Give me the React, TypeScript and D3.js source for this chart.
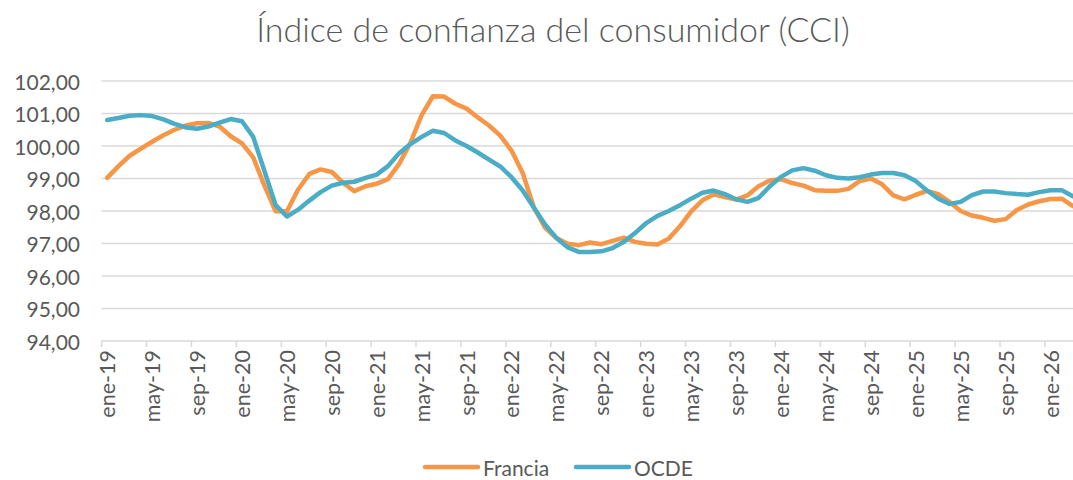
import React from "react";
import * as d3 from "d3";

const monthNames = ["ene", "feb", "mar", "abr", "may", "jun", "jul", "ago", "sep", "oct", "nov", "dic"];
const startYear = 19;
const monthCount = 87;
const months: string[] = Array.from({ length: monthCount }, (_, i) => `${monthNames[i % 12]}-${startYear + Math.floor(i / 12)}`);

const francia: number[] = [
  99.02, 99.38, 99.70, 99.92, 100.13, 100.33, 100.50, 100.63, 100.70, 100.71, 100.60, 100.30,
  100.08, 99.65, 98.78, 97.99, 97.99, 98.66, 99.14, 99.28, 99.20, 98.87, 98.61, 98.76,
  98.84, 98.98, 99.45, 100.10, 100.95, 101.53, 101.52, 101.30, 101.15, 100.88, 100.63, 100.32,
  99.86, 99.17, 98.10, 97.48, 97.17, 96.99, 96.95, 97.03, 96.98, 97.08, 97.18, 97.05,
  96.99, 96.97, 97.15, 97.53, 97.99, 98.33, 98.51, 98.43, 98.35, 98.48, 98.76, 98.94,
  98.98, 98.86, 98.78, 98.64, 98.62, 98.62, 98.68, 98.92, 99.00, 98.82, 98.48, 98.36,
  98.50, 98.62, 98.52, 98.28, 98.00, 97.86, 97.79, 97.70, 97.75, 98.03, 98.20, 98.30,
  98.37, 98.38, 98.15,
];

const ocde: number[] = [
  100.80, 100.86, 100.93, 100.95, 100.92, 100.82, 100.68, 100.57, 100.53, 100.60, 100.72, 100.83,
  100.76, 100.28, 99.23, 98.18, 97.83, 98.04, 98.32, 98.58, 98.78, 98.87, 98.90, 99.02,
  99.12, 99.38, 99.78, 100.06, 100.28, 100.47, 100.40, 100.17, 100.00, 99.80, 99.58, 99.37,
  99.04, 98.63, 98.10, 97.58, 97.17, 96.88, 96.74, 96.74, 96.76, 96.86, 97.05, 97.32,
  97.63, 97.85, 98.00, 98.18, 98.38, 98.56, 98.63, 98.52, 98.36, 98.28, 98.40, 98.76,
  99.05, 99.25, 99.32, 99.24, 99.10, 99.02, 99.00, 99.04, 99.12, 99.17, 99.17, 99.10,
  98.92, 98.63, 98.38, 98.22, 98.28, 98.49, 98.60, 98.60, 98.55, 98.52, 98.50, 98.58,
  98.64, 98.64, 98.45,
];

const yTicks: number[] = [94, 95, 96, 97, 98, 99, 100, 101, 102];
const seriesNames = ["Francia", "OCDE"];
const title = "Índice de confianza del consumidor (CCI)";

const W = 1073;
const H = 480;
const FONT = "Lato, 'Open Sans', sans-serif";
const TEXT = "#595959";
const GRID = "#D9D9D9";
const ORANGE = "#F79646";
const BLUE = "#4BACC6";

export default function App() {
  const left = 101.6;
  const step = 11.23;
  const x = d3.scaleBand<string>().domain(months).range([left, left + step * monthCount]).paddingInner(0).paddingOuter(0);
  const bw = x.bandwidth();
  const cx = (m: string) => (x(m) as number) + bw / 2;
  const y = d3.scaleLinear().domain([94, 102]).range([341, 81]);

  const line = d3
    .line<number>()
    .x((_, i) => cx(months[i]))
    .y((d) => y(d));

  const tickMonths = months.filter((_, i) => i % 4 === 0);
  const fmt = (v: number) => v.toFixed(2).replace(".", ",");

  return (
    <svg width={W} height={H} style={{ position: "absolute", left: 0, top: 0, display: "block", background: "#fff" }}>
      <defs>
        <clipPath id="plotclip">
          <rect x={0} y={0} width={W} height={H} />
        </clipPath>
      </defs>
      <text x={553} y={42} textAnchor="middle" fontFamily={FONT} fontWeight={300} fontSize={34} fill={TEXT}>
        {title}
      </text>
      {yTicks.map((t) => (
        <g key={t}>
          <line x1={left} x2={W} y1={y(t)} y2={y(t)} stroke={GRID} strokeWidth={1.5} />
          <text x={80} y={y(t)} textAnchor="end" dominantBaseline="central" fontFamily={FONT} fontSize={21} fill={TEXT}>
            {fmt(t)}
          </text>
        </g>
      ))}
      {tickMonths.map((m) => (
        <line key={"t" + m} x1={x(m) as number} x2={x(m) as number} y1={y(94)} y2={y(94) + 6} stroke={GRID} strokeWidth={1.5} />
      ))}
      {tickMonths.map((m) => (
        <text
          key={"l" + m}
          transform={`translate(${cx(m)},${y(94) + 9}) rotate(-90)`}
          textAnchor="end"
          dominantBaseline="central"
          fontFamily={FONT}
          fontSize={21.5}
          fill={TEXT}
        >
          {m}
        </text>
      ))}
      <g clipPath="url(#plotclip)">
        <path d={line(francia) ?? ""} fill="none" stroke={ORANGE} strokeWidth={4.5} strokeLinejoin="round" strokeLinecap="round" />
        <path d={line(ocde) ?? ""} fill="none" stroke={BLUE} strokeWidth={4.5} strokeLinejoin="round" strokeLinecap="round" />
      </g>
      <g>
        <line x1={425} x2={478} y1={467} y2={467} stroke={ORANGE} strokeWidth={4.5} strokeLinecap="round" />
        <text x={483} y={467} dominantBaseline="central" fontFamily={FONT} fontSize={21} fill={TEXT}>
          {seriesNames[0]}
        </text>
        <line x1={576} x2={629} y1={467} y2={467} stroke={BLUE} strokeWidth={4.5} strokeLinecap="round" />
        <text x={634} y={467} dominantBaseline="central" fontFamily={FONT} fontSize={21} fill={TEXT}>
          {seriesNames[1]}
        </text>
      </g>
    </svg>
  );
}
